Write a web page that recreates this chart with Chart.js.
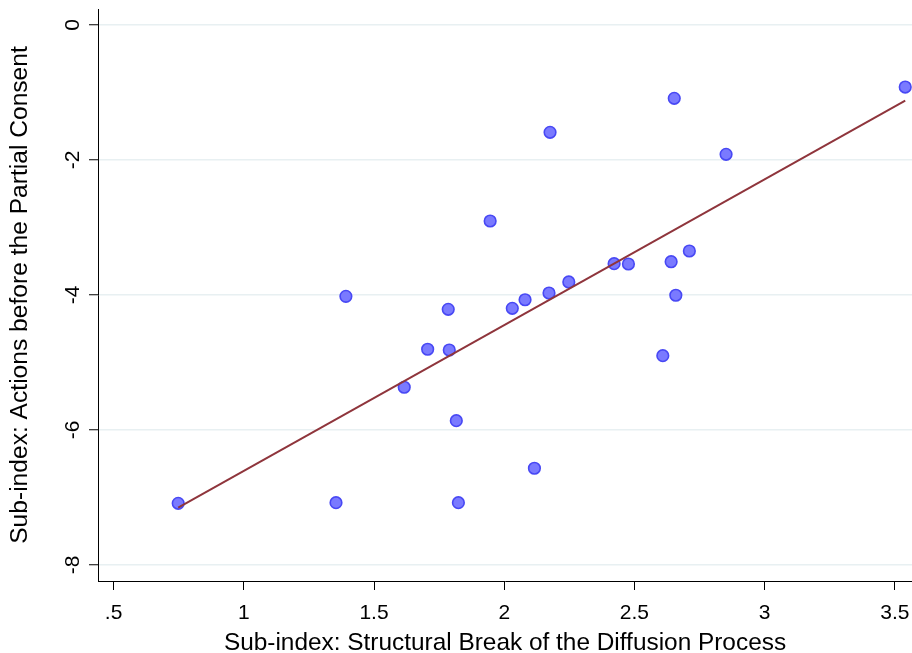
<!DOCTYPE html>
<html>
<head>
<meta charset="utf-8">
<script src="https://cdn.jsdelivr.net/npm/chart.js@4.4.1/dist/chart.umd.min.js"></script>
<style>
  html, body { margin: 0; padding: 0; background: #fff; }
  #wrap { width: 912px; height: 653px; }
</style>
</head>
<body>
<div id="wrap"><canvas id="chart" width="912" height="653"></canvas></div>
<script>
// Values
const structuralBreak = [0.748, 1.354, 1.392, 1.616, 1.706, 1.785, 1.789, 1.816, 1.824, 1.946, 2.031, 2.080, 2.116,
                         2.172, 2.176, 2.248, 2.422, 2.477, 2.609, 2.641, 2.653, 2.659, 2.711, 2.852, 3.540];
const actionsBefore = [-7.086, -7.077, -4.020, -5.367, -4.804, -4.212, -4.815, -5.862, -7.077, -2.904, -4.197, -4.070, -6.567,
                       -3.970, -1.590, -3.807, -3.536, -3.541, -4.899, -3.507, -1.086, -4.004, -3.348, -1.916, -0.919];

// Fitted values (linear fit line end points)
const fitX = [0.748, 3.540];
const fitY = [-7.15, -1.12];

const xTicks = [0.5, 1, 1.5, 2, 2.5, 3, 3.5];
const xTickLabels = ['.5', '1', '1.5', '2', '2.5', '3', '3.5'];
const yTicks = [0, -2, -4, -6, -8];
const yTickLabels = ['0', '-2', '-4', '-6', '-8'];

const xTitle = 'Sub-index: Structural Break of the Diffusion Process';
const yTitle = 'Sub-index: Actions before the Partial Consent';

const FONT = '"Liberation Sans", Arial, Helvetica, sans-serif';

const scatterPoints = structuralBreak.map((x, i) => ({ x: x, y: actionsBefore[i] }));
const fitPoints = fitX.map((x, i) => ({ x: x, y: fitY[i] }));

const ctx = document.getElementById('chart').getContext('2d');
new Chart(ctx, {
    type: 'scatter',
    data: {
        datasets: [
            {
                type: 'line',
                label: 'Fitted values',
                data: fitPoints,
                borderColor: '#8f353c',
                borderWidth: 2,
                pointRadius: 0,
                fill: false,
                order: 0
            },
            {
                label: 'Observed',
                data: scatterPoints,
                backgroundColor: '#7a7aff',
                borderColor: '#4848f4',
                borderWidth: 1.6,
                pointRadius: 5.8,
                clip: false,
                order: 1
            }
        ]
    },
    options: {
        responsive: false,
        animation: false,
        devicePixelRatio: 1,
        layout: { autoPadding: false, padding: { top: 9, right: 0, bottom: 0, left: 0 } },
        plugins: {
            legend: { display: false },
            tooltip: { enabled: false }
        },
        scales: {
            x: {
                type: 'linear',
                min: 0.44,
                max: 3.566,
                afterBuildTicks: function(scale) {
                    scale.ticks = xTicks.map(v => ({ value: v }));
                },
                afterFit: function(scale) {
                    scale.height = 72;
                    scale.paddingLeft = 0;
                    scale.paddingRight = 0;
                },
                grid: {
                    drawOnChartArea: false,
                    drawTicks: true,
                    tickLength: 9,
                    tickColor: '#000',
                    tickWidth: 1
                },
                border: { display: true, color: '#000', width: 1 },
                ticks: {
                    autoSkip: false,
                    maxRotation: 0,
                    padding: 11,
                    color: '#000',
                    font: { family: FONT, size: 21 },
                    callback: function(value, index) { return xTickLabels[index]; }
                },
                title: {
                    display: true,
                    text: xTitle,
                    color: '#000',
                    font: { family: FONT, size: 24.4, lineHeight: 0.8 },
                    padding: { top: 0, bottom: 0 }
                }
            },
            y: {
                type: 'linear',
                min: -8.237,
                max: 0.237,
                afterBuildTicks: function(scale) {
                    scale.ticks = yTicks.map(v => ({ value: v }));
                },
                afterFit: function(scale) {
                    scale.width = 98;
                    scale.paddingTop = 0;
                    scale.paddingBottom = 0;
                },
                grid: {
                    drawOnChartArea: true,
                    color: '#e8f0f2',
                    lineWidth: 1.5,
                    drawTicks: true,
                    tickLength: 9,
                    tickColor: '#000',
                    tickWidth: 1
                },
                border: { display: true, color: '#000', width: 1 },
                ticks: {
                    autoSkip: false,
                    minRotation: 90,
                    maxRotation: 90,
                    crossAlign: 'center',
                    padding: 6,
                    color: '#000',
                    font: { family: FONT, size: 21 },
                    callback: function(value, index) { return yTickLabels[index]; }
                },
                title: {
                    display: true,
                    text: yTitle,
                    color: '#000',
                    font: { family: FONT, size: 24.6, lineHeight: 1 },
                    padding: { top: 8, bottom: 0 }
                }
            }
        }
    }
});
</script>
</body>
</html>
